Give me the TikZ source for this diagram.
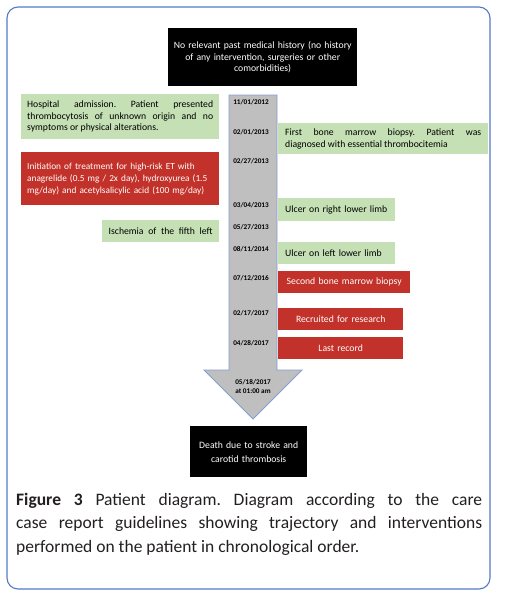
\documentclass[tikz,border=0pt]{standalone}
\usepackage{fontspec}
\setmainfont{Carlito}
\frenchspacing
\definecolor{frameblue}{RGB}{84,122,196}
\definecolor{boxgreen}{RGB}{197,224,180}
\definecolor{boxred}{RGB}{194,49,42}
\definecolor{arrowgray}{RGB}{191,191,191}
\definecolor{arrowedge}{RGB}{132,158,206}
\definecolor{captext}{RGB}{35,31,32}
\begin{document}
\begin{tikzpicture}[x=1pt,y=-1pt,
  box/.style={anchor=north west,inner xsep=6pt,inner ysep=0pt,font=\fontsize{9.7}{11.7}\selectfont},
  greenbox/.style={box,fill=boxgreen,text=black},
  redbox/.style={box,fill=boxred,text=white},
  blackbox/.style={box,fill=black,text=white,align=center},
  datelbl/.style={font=\fontsize{7.2}{8}\selectfont\bfseries,text=black,inner sep=0pt,align=center}]
\useasboundingbox (0,0) rectangle (505,600);
% frame
\draw[frameblue,line width=1.1pt,rounded corners=11pt] (7,7) rectangle (490,589);
% timeline arrow
\draw[fill=arrowgray,draw=arrowedge,line width=0.8pt]
  (229,95) -- (277,95) -- (277,370) -- (302,370) -- (253,419) -- (204,370) -- (229,370) -- cycle;
% top box
\node[blackbox,minimum width=189pt,minimum height=58pt,text width=181pt,inner xsep=4pt] (hist) at (168,28)
  {No relevant past medical history (no history\\ of any intervention, surgeries or other\\ comorbidities)};
% left boxes
\node[greenbox,minimum width=198pt,minimum height=45pt,text width=186pt,align=justify] (adm) at (21,94)
  {Hospital admission. Patient presented\linebreak thrombocytosis of unknown origin and no\linebreak symptoms or physical alterations.};
\node[redbox,minimum width=198pt,minimum height=53pt,text width=192pt,inner xsep=3pt,align=left,font=\fontsize{9.3}{12}\selectfont] (treat) at (21,152)
  {\hspace*{3pt}Initiation of treatment for high-risk ET with\\ \hspace*{3pt}anagrelide (0.5 mg / 2x day), hydroxyurea (1.5\\ \hspace*{3pt}mg/day) and acetylsalicylic acid (100 mg/day)};
\node[greenbox,minimum width=117pt,minimum height=22pt,text width=104pt,inner xsep=6.5pt] (isch) at (102,220)
  {Ischemia\hfill of\hfill the\hfill fifth\hfill left};
% right boxes
\node[greenbox,minimum width=210pt,minimum height=31pt,text width=196pt,inner xsep=7pt,align=justify] (bio1) at (278,123)
  {First bone marrow biopsy. Patient was\linebreak diagnosed with essential thrombocitemia};
\node[greenbox,minimum width=117pt,minimum height=23pt,text width=103pt,inner xsep=7pt,align=left] (ulr) at (278,198)
  {Ulcer on right lower limb};
\node[greenbox,minimum width=117pt,minimum height=22pt,text width=103pt,inner xsep=7pt,align=left] (ull) at (278,242)
  {Ulcer on left lower limb};
\node[redbox,minimum width=132pt,minimum height=22pt,text width=124pt,inner xsep=4pt,align=center] (bio2) at (278,271)
  {Second bone marrow biopsy};
\node[redbox,minimum width=125pt,minimum height=22pt,text width=113pt,align=center] (recr) at (278,308)
  {Recruited for research};
\node[redbox,minimum width=125pt,minimum height=22pt,text width=113pt,align=center] (last) at (278,337)
  {Last record};
% death box
\node[blackbox,minimum width=117pt,minimum height=51pt,text width=105pt,font=\fontsize{9.7}{14}\selectfont] (death) at (190,426)
  {Death due to stroke and\\ carotid thrombosis};
% dates
\node[datelbl] (d1) at (251,102) {11/01/2012};
\node[datelbl] (d2) at (251,132) {02/01/2013};
\node[datelbl] (d3) at (251,161) {02/27/2013};
\node[datelbl] (d4) at (251,205) {03/04/2013};
\node[datelbl] (d5) at (251,227) {05/27/2013};
\node[datelbl] (d6) at (251,249) {08/11/2014};
\node[datelbl] (d7) at (251,278) {07/12/2016};
\node[datelbl] (d8) at (251,313) {02/17/2017};
\node[datelbl] (d9) at (251,343) {04/28/2017};
\node[datelbl] (d10) at (253,386) {05/18/2017\\[1pt]at 01:00 am};
% caption
\node[anchor=north west,inner sep=0pt,text width=466pt,align=justify,text=captext,
  font=\fontsize{17.5}{23.5}\selectfont] (cap) at (16,493)
  {\textbf{Figure 3} Patient diagram. Diagram according to the care\linebreak case report guidelines showing trajectory and interventions\linebreak performed on the patient in chronological order.};
\end{tikzpicture}
\end{document}
